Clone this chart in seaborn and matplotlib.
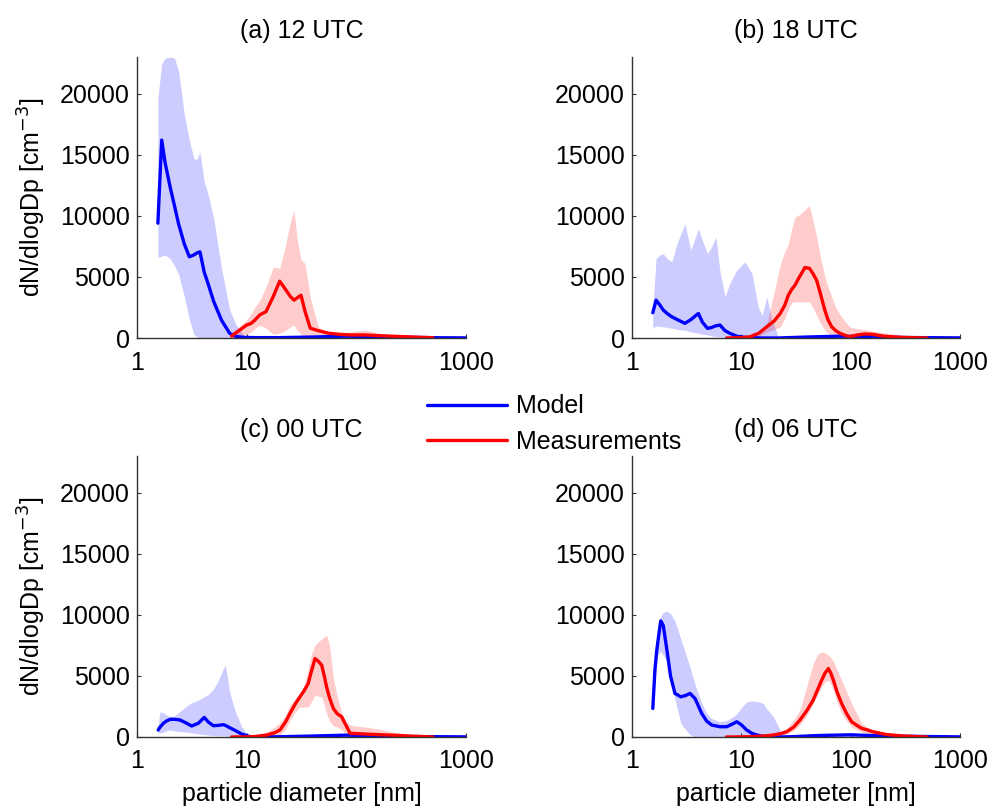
import numpy as np
import pandas as pd
import matplotlib
matplotlib.use("Agg")
import matplotlib.pyplot as plt
from matplotlib.ticker import FixedLocator, NullLocator, FixedFormatter
import seaborn as sns

# ---------------- data ----------------
titles = ["(a) 12 UTC", "(b) 18 UTC", "(c) 00 UTC", "(d) 06 UTC"]
xticks = [1, 10, 100, 1000]
xticklabels = ["1", "10", "100", "1000"]
yticks = [0, 5000, 10000, 15000, 20000]
series_names = ["Model", "Measurements"]

# (a) 12 UTC
a_mod_d = [1.55, 1.68, 1.8, 2.0, 2.2, 2.4, 2.7, 3.0, 3.3, 3.5, 3.75, 4.1, 4.5, 5.0, 5.9, 7.0, 8.0, 9.5, 12, 20, 40, 80, 150, 300, 600, 1000]
a_mod_m = [9400, 16200, 14400, 12400, 10800, 9300, 7700, 6650, 6800, 6950, 7050, 5400, 4300, 3000, 1450, 380, 120, 50, 30, 30, 80, 150, 100, 50, 20, 10]
a_mod_hi = [19700, 22450, 22900, 23000, 22900, 21800, 18300, 16200, 14700, 14600, 15200, 12800, 11600, 9800, 5700, 2300, 1100, 150, 40, 40, 150, 250, 200, 100, 40, 20]
a_mod_lo = [6600, 6700, 6800, 6500, 5900, 5200, 3400, 1500, 300, 100, 0, 0, 0, 0, 0, 0, 0, 0, 0, 0, 0, 0, 0, 0, 0, 0]
a_obs_d = [7.3, 8.5, 10, 11, 12, 13.2, 15, 17.5, 20, 22.5, 25, 27, 29, 31.3, 34, 38, 45, 55, 70, 90, 120, 170, 250, 350, 500]
a_obs_m = [160, 600, 1060, 1200, 1500, 1900, 2150, 3400, 4650, 4000, 3400, 3100, 3300, 3500, 2200, 800, 600, 400, 300, 250, 250, 180, 120, 70, 20]
a_obs_hi = [500, 900, 1470, 2000, 2600, 3100, 4200, 5800, 5700, 7500, 9500, 10450, 8000, 6400, 6100, 3300, 900, 500, 400, 500, 650, 350, 200, 120, 40]
a_obs_lo = [0, 100, 300, 500, 800, 1060, 800, 300, 400, 600, 900, 1060, 600, 300, 100, 50, 100, 100, 50, 0, 0, 0, 0, 0, 0]

# (b) 18 UTC
b_mod_d = [1.55, 1.66, 1.8, 1.93, 2.1, 2.31, 2.6, 3.05, 3.45, 4.05, 4.4, 4.9, 5.3, 5.86, 6.37, 7.1, 7.87, 9.07, 10.8, 12.5, 14.3, 15.5, 17.1, 19, 21.8, 25, 40, 80, 150, 300, 1000]
b_mod_m = [2070, 3100, 2700, 2290, 2000, 1740, 1500, 1200, 1500, 2010, 1300, 790, 850, 1000, 1060, 600, 380, 150, 50, 20, 10, 0, 0, 0, 0, 20, 80, 150, 100, 40, 10]
b_mod_hi = [2500, 6500, 6800, 6900, 6500, 6230, 7800, 9360, 7180, 8950, 8000, 6910, 7400, 8270, 5500, 3370, 4500, 5550, 6230, 5300, 2500, 1880, 3370, 1500, 100, 60, 150, 250, 200, 80, 20]
b_mod_lo = [800, 1000, 950, 920, 870, 800, 700, 630, 500, 380, 320, 250, 180, 120, 100, 70, 50, 20, 0, 0, 0, 0, 0, 0, 0, 0, 0, 0, 0, 0, 0]
b_obs_d = [7.35, 10, 12, 14.5, 17.1, 20, 22.7, 25, 26.9, 29, 31, 34, 38.2, 42, 45, 48.8, 53, 58, 62, 67, 73, 80, 90, 98.6, 115, 135, 160, 200, 280, 400, 500]
b_obs_m = [0, 30, 100, 400, 920, 1400, 2010, 2700, 3500, 4000, 4330, 5000, 5770, 5700, 5300, 4730, 3600, 2290, 1500, 920, 600, 380, 200, 100, 250, 330, 300, 150, 60, 20, 0]
b_obs_hi = [0, 80, 200, 500, 1200, 3800, 6000, 7100, 7700, 9000, 9900, 10100, 10500, 10850, 9700, 8300, 6600, 5000, 4200, 3400, 2500, 1900, 1300, 900, 750, 700, 550, 420, 250, 80, 0]
b_obs_lo = [0, 0, 20, 150, 500, 700, 920, 1600, 2400, 2900, 2960, 2960, 2960, 2960, 2500, 1880, 1200, 650, 400, 200, 100, 50, 0, 0, 0, 0, 0, 0, 0, 0, 0]

# (c) 00 UTC
c_mod_d = [1.56, 1.62, 1.74, 1.85, 2.0, 2.2, 2.47, 2.8, 3.15, 3.62, 4.1, 4.5, 4.97, 5.5, 6.13, 6.4, 7.05, 7.8, 9.0, 10.5, 12, 20, 40, 80, 150, 300, 1000]
c_mod_m = [570, 800, 1120, 1300, 1440, 1450, 1390, 1150, 900, 1120, 1600, 1200, 925, 950, 1010, 950, 750, 550, 245, 50, 0, 20, 80, 150, 100, 40, 10]
c_mod_hi = [1000, 2070, 2000, 1800, 1700, 1700, 2100, 2500, 2800, 3000, 3300, 3500, 3900, 4600, 5600, 5880, 3570, 2200, 840, 100, 0, 40, 150, 250, 200, 80, 20]
c_mod_lo = [300, 350, 400, 500, 570, 500, 450, 400, 330, 250, 200, 150, 120, 100, 100, 80, 60, 40, 20, 0, 0, 0, 0, 0, 0, 0, 0]
c_obs_d = [7.3, 10, 12, 15.2, 18, 20.1, 22.5, 24.8, 27.5, 30.6, 33.5, 36.4, 39, 42, 45, 48.3, 51, 53.5, 57, 61.7, 67, 73.4, 80, 87.8, 100, 122, 170, 215, 300, 500]
c_obs_m = [0, 10, 40, 160, 350, 570, 1200, 1930, 2650, 3290, 3800, 4380, 5400, 6420, 6200, 5880, 5000, 4110, 3200, 2340, 1900, 1660, 1000, 300, 280, 240, 180, 150, 80, 0]
c_obs_hi = [0, 20, 80, 400, 800, 1200, 1700, 2600, 3100, 3560, 4300, 5600, 6800, 7510, 7800, 8000, 8200, 8330, 7500, 4800, 3300, 2000, 1300, 980, 900, 820, 600, 400, 200, 0]
c_obs_lo = [0, 0, 10, 50, 100, 160, 600, 1360, 2000, 2450, 2450, 2450, 2900, 3400, 3350, 3260, 2600, 1930, 1300, 900, 820, 600, 300, 100, 50, 0, 0, 0, 0, 0]

# (d) 06 UTC
d_mod_d = [1.55, 1.62, 1.68, 1.74, 1.83, 1.93, 2.08, 2.25, 2.47, 2.8, 3.1, 3.39, 3.77, 4.34, 4.82, 5.36, 6.37, 7.35, 8.46, 9.07, 10, 11.2, 12.5, 14, 15.9, 17.1, 19.6, 23.4, 30, 50, 100, 200, 1000]
d_mod_m = [2340, 5470, 7000, 8060, 9500, 9140, 7200, 5000, 3570, 3290, 3400, 3570, 3150, 1930, 1300, 980, 840, 840, 1100, 1250, 1000, 570, 300, 150, 50, 20, 0, 0, 30, 120, 180, 80, 10]
d_mod_hi = [2600, 6000, 8000, 9200, 9900, 10200, 10300, 10100, 9500, 8000, 6800, 5700, 4300, 2800, 1930, 1500, 1250, 1350, 1660, 1900, 2400, 2880, 2950, 2900, 2750, 2300, 1660, 300, 60, 200, 300, 150, 20]
d_mod_lo = [2000, 4500, 6000, 6800, 7000, 6700, 6200, 4800, 3100, 1100, 600, 200, 0, 0, 0, 0, 0, 0, 0, 0, 0, 0, 0, 0, 0, 0, 0, 0, 0, 0, 0, 0, 0]
d_obs_d = [7.3, 12, 16, 19.6, 23, 26, 30, 34.4, 40, 45.4, 50, 54.3, 58, 62.6, 66, 69.5, 75, 82.6, 92, 102, 114, 126, 140, 160, 210, 300, 500]
d_obs_m = [0, 20, 80, 160, 280, 430, 800, 1390, 2200, 3020, 3900, 4650, 5200, 5610, 5200, 4650, 3700, 2750, 1900, 1250, 950, 710, 600, 430, 210, 80, 0]
d_obs_hi = [0, 40, 150, 300, 500, 700, 1400, 2200, 4300, 6000, 6800, 6960, 6900, 6700, 6500, 6200, 5500, 4650, 3700, 2750, 1900, 1120, 800, 570, 300, 150, 0]
d_obs_lo = [0, 0, 20, 60, 150, 250, 500, 980, 1800, 2750, 3500, 4110, 4500, 4650, 4300, 3830, 2900, 1930, 1300, 820, 600, 400, 300, 200, 100, 30, 0]

panels = [
    (a_mod_d, a_mod_m, a_mod_lo, a_mod_hi, a_obs_d, a_obs_m, a_obs_lo, a_obs_hi),
    (b_mod_d, b_mod_m, b_mod_lo, b_mod_hi, b_obs_d, b_obs_m, b_obs_lo, b_obs_hi),
    (c_mod_d, c_mod_m, c_mod_lo, c_mod_hi, c_obs_d, c_obs_m, c_obs_lo, c_obs_hi),
    (d_mod_d, d_mod_m, d_mod_lo, d_mod_hi, d_obs_d, d_obs_m, d_obs_lo, d_obs_hi),
]

# ---------------- style ----------------
sns.set_theme(style="ticks")
plt.rcParams["font.family"] = ["Liberation Sans", "DejaVu Sans"]
plt.rcParams["axes.edgecolor"] = "#333333"
plt.rcParams["axes.linewidth"] = 1.0
plt.rcParams["text.color"] = "black"
plt.rcParams["axes.labelcolor"] = "black"
plt.rcParams["axes.titlecolor"] = "black"
plt.rcParams["xtick.labelcolor"] = "black"
plt.rcParams["ytick.labelcolor"] = "black"

FS = 18
MODEL_C = "#0000ff"
OBS_C = "#ff0000"

fig = plt.figure(figsize=(9.94, 8.10), dpi=100)
W, H = 994.0, 810.0
positions = [
    (137 / W, (H - 338) / H, 329 / W, 281 / H),
    (632 / W, (H - 338) / H, 328 / W, 281 / H),
    (137 / W, (H - 737) / H, 329 / W, 281 / H),
    (632 / W, (H - 737) / H, 328 / W, 281 / H),
]

handles = None
for i, (pos, title, p) in enumerate(zip(positions, titles, panels)):
    md, mm, mlo, mhi, od, om, olo, ohi = p
    ax = fig.add_axes(pos)
    ax.set_xscale("log")
    ax.fill_between(md, mlo, mhi, color=MODEL_C, alpha=0.2, linewidth=0)
    ax.fill_between(od, olo, ohi, color=OBS_C, alpha=0.2, linewidth=0)
    dfm = pd.DataFrame({"d": md, "v": mm})
    dfo = pd.DataFrame({"d": od, "v": om})
    sns.lineplot(data=dfm, x="d", y="v", ax=ax, color=MODEL_C, linewidth=2.4,
                 label=series_names[0], legend=False)
    sns.lineplot(data=dfo, x="d", y="v", ax=ax, color=OBS_C, linewidth=2.4,
                 label=series_names[1], legend=False)
    ax.set_xlim(1, 1000)
    ax.set_ylim(0, 23000)
    ax.xaxis.set_major_locator(FixedLocator(xticks))
    ax.xaxis.set_major_formatter(FixedFormatter(xticklabels))
    ax.xaxis.set_minor_locator(NullLocator())
    ax.yaxis.set_major_locator(FixedLocator(yticks))
    ax.set_yticklabels([str(t) for t in yticks])
    ax.tick_params(axis="both", direction="in", length=3, width=0.8,
                   labelsize=FS, colors="#333333", labelcolor="black")
    ax.tick_params(axis="x", pad=9)
    ax.tick_params(axis="y", pad=5)
    sns.despine(ax=ax)
    ax.set_title(title, fontsize=FS, pad=14, color="black")
    ax.set_xlabel("")
    ax.set_ylabel("")
    if i % 2 == 0:
        ax.set_ylabel("dN/dlogDp [cm$^{-3}$]", fontsize=FS, color="black")
        ax.yaxis.set_label_coords(-0.27, 0.5)
    if i >= 2:
        ax.set_xlabel("particle diameter [nm]", fontsize=FS, color="black")
        ax.xaxis.set_label_coords(0.5, -0.16)
    if handles is None:
        handles = ax.get_lines()[:2]

leg = fig.legend(handles, series_names, loc="center left",
                 bbox_to_anchor=(427 / W, (H - 424) / H), frameon=False,
                 fontsize=FS, handlelength=3.2, handletextpad=0.35,
                 labelspacing=0.45, borderpad=0, borderaxespad=0)
for t in leg.get_texts():
    t.set_color("black")

fig.savefig("out.png", dpi=100)
